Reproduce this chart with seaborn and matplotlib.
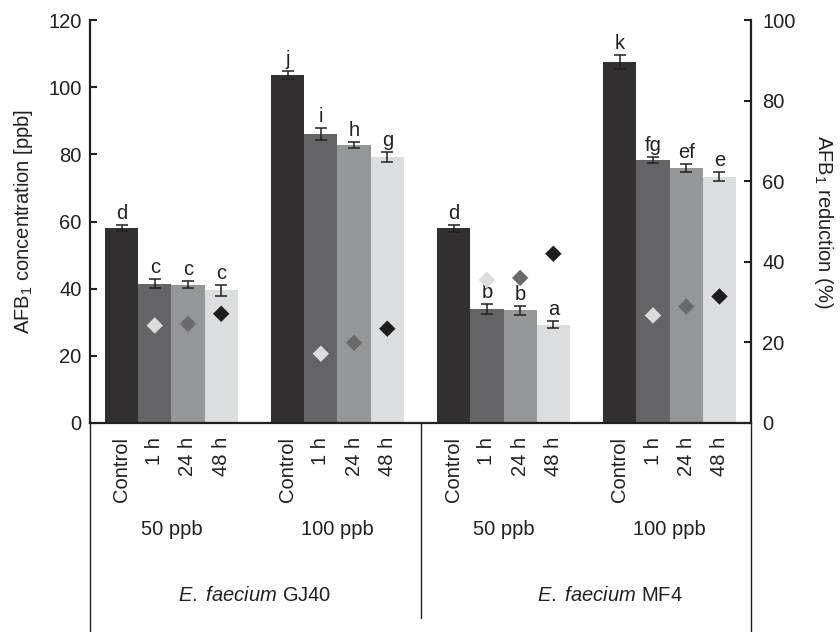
import pandas as pd
import matplotlib.pyplot as plt
import seaborn as sns

# Datos
grupos = ['50 ppb', '100 ppb', '50 ppb', '100 ppb']
cepas = ['GJ40', 'MF4']
tiempos = ['Control', '1 h', '24 h', '48 h']
concentracion = [58.0, 41.5, 41.2, 39.5,
                 103.6, 86.1, 82.8, 79.3,
                 58.0, 34.0, 33.5, 29.3,
                 107.4, 78.3, 75.9, 73.3]
error = [0.9, 1.4, 1.0, 1.6,
         1.3, 1.7, 0.8, 1.5,
         1.0, 1.4, 1.4, 0.95,
         2.1, 0.9, 1.15, 1.35]
letras = ['d', 'c', 'c', 'c', 'j', 'i', 'h', 'g',
          'd', 'b', 'b', 'a', 'k', 'fg', 'ef', 'e']
reduccion = [24.2, 24.6, 27.1,
             17.2, 19.9, 23.4,
             35.5, 36.0, 42.0,
             26.7, 28.9, 31.4]

colores_barras = {'Control': '#323031', '1 h': '#646466', '24 h': '#959698', '48 h': '#dcdddf'}
colores_rombos = {'1 h': '#dcdcdc', '24 h': '#6a6a6b', '48 h': '#1e1c1d'}
texto = '#231f20'

# Posiciones: 4 barras por grupo, un hueco entre grupos
pos = [g * 5 + i for g in range(len(grupos)) for i in range(len(tiempos))]
df = pd.DataFrame({'pos': pos, 'tiempo': tiempos * len(grupos),
                   'conc': concentracion, 'err': error})
df_red = df[df['tiempo'] != 'Control'].copy()
df_red['red'] = reduccion

sns.set_style('white')
plt.rcParams['font.family'] = ['Liberation Sans', 'DejaVu Sans']
plt.rcParams['font.size'] = 14.5
plt.rcParams['text.color'] = texto
plt.rcParams['axes.labelcolor'] = texto
plt.rcParams['xtick.color'] = texto
plt.rcParams['ytick.color'] = texto
plt.rcParams['mathtext.fontset'] = 'custom'
plt.rcParams['mathtext.it'] = 'Liberation Sans:italic'
plt.rcParams['mathtext.rm'] = 'Liberation Sans'

fig = plt.figure(figsize=(8.4, 6.32), dpi=100)
ax = fig.add_axes([90 / 840, 1 - 423 / 632, 661 / 840, 403 / 632])

sns.barplot(data=df, x='pos', y='conc', hue='tiempo', palette=colores_barras,
            native_scale=True, width=1, dodge=False, errorbar=None,
            saturation=1, legend=False, linewidth=0, ax=ax)
ax.errorbar(df['pos'], df['conc'], yerr=df['err'], fmt='none',
            ecolor=texto, elinewidth=1.1, capsize=4.2, capthick=1.1, zorder=4)
for x, y, e, l in zip(df['pos'], df['conc'], df['err'], letras):
    ax.text(x, y + e + 0.6, l, ha='center', va='bottom', fontsize=14.5)

ax2 = ax.twinx()
sns.scatterplot(data=df_red, x='pos', y='red', hue='tiempo', palette=colores_rombos,
                marker='D', s=70, edgecolor='none', legend=False, ax=ax2, zorder=5)

ax.set_xlim(-0.95, 18.95)
ax.set_ylim(0, 120)
ax2.set_ylim(0, 100)
ax.set_yticks(range(0, 121, 20))
ax2.set_yticks(range(0, 101, 20))
ax.set_xticks(pos, tiempos * len(grupos), rotation=90, va='top', ha='center')
ax.tick_params(axis='x', length=0, pad=10)
ax.tick_params(axis='y', direction='in', length=5, width=1.5, pad=6)
ax2.tick_params(axis='y', direction='in', length=5, width=1.5, pad=8)
ax.set_xlabel('')
ax2.set_xlabel('')

ax.set_ylabel(r'AFB$_\mathregular{1}$ concentration [ppb]')
ax.yaxis.set_label_coords(-0.083, 0.5)
ax2.set_ylabel(r'AFB$_\mathregular{1}$ reduction (%)', rotation=-90, va='center')
ax2.yaxis.set_label_coords(1.109, 0.5)

for a in (ax, ax2):
    a.spines['top'].set_visible(False)
    for s in ('left', 'right', 'bottom'):
        a.spines[s].set_color(texto)
        a.spines[s].set_linewidth(1.6)
    a.grid(False)
ax.spines['right'].set_visible(False)
ax2.spines['left'].set_visible(False)
ax2.spines['bottom'].set_visible(False)

# Líneas de separación bajo el eje
for xa, y0 in [(0.0, -0.54), (0.5008, -0.484), (1.0, -0.54)]:
    ax.plot([xa, xa], [0, y0], transform=ax.transAxes, color=texto,
            lw=1.0, clip_on=False)

# Etiquetas de grupos y cepas
tr = ax.get_xaxis_transform()
for g, nombre in enumerate(grupos):
    ax.text(g * 5 + 1.5, -0.265, nombre, transform=tr, ha='center', va='center')
for c, cepa in enumerate(cepas):
    xc = [4.0, 14.7][c]
    ax.text(xc, -0.427, r'$\mathit{E.}$ $\mathit{faecium}$ ' + cepa, transform=tr,
            ha='center', va='center')

fig.savefig('out.png', dpi=100)
